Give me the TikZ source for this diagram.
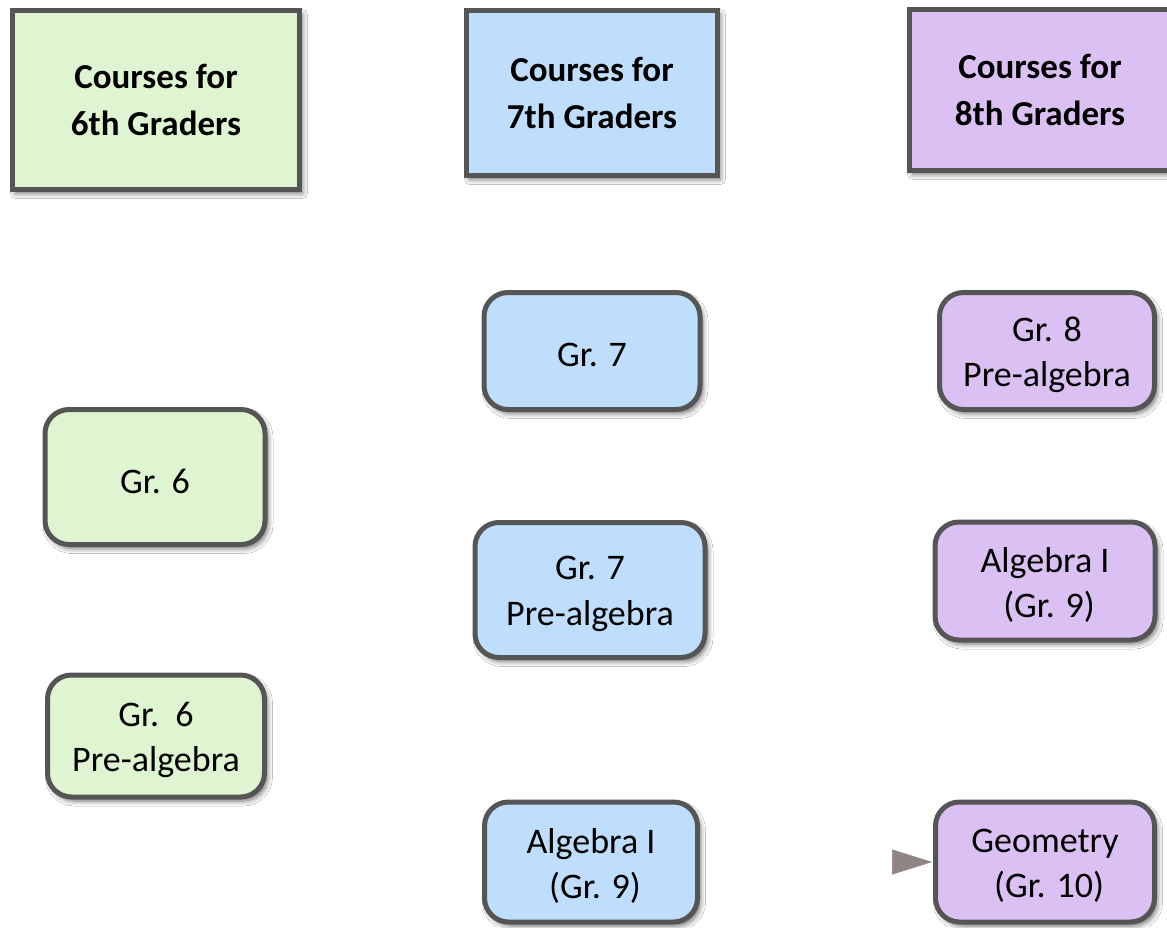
\documentclass[tikz,border=0pt]{standalone}
\usepackage{fontspec}
\setmainfont{Carlito}
\usetikzlibrary{shadows.blur,arrows.meta}
\definecolor{gfill}{HTML}{DFF4D0}
\definecolor{bfill}{HTML}{BFDDFC}
\definecolor{pfill}{HTML}{DBC1F3}
\definecolor{bord}{HTML}{555555}
\definecolor{arrowc}{HTML}{908585}
\tikzset{
  base/.style={draw=bord, line width=5pt, inner sep=0pt, align=center,
    blur shadow={shadow xshift=3pt, shadow yshift=-4pt, shadow blur radius=5pt,
      shadow blur steps=6, shadow opacity=55}},
  head/.style={base, rectangle, font=\fontsize{35}{47}\selectfont\bfseries},
  course/.style={base, rectangle, rounded corners=24pt},
  txt/.style={align=center, inner sep=0pt, yshift=-4pt, font=\fontsize{36}{45.5}\selectfont},
}
\begin{document}
\begin{tikzpicture}[x=1pt,y=-1pt]
\useasboundingbox (0,0) rectangle (1167,927);
\clip (0,0) rectangle (1167,927);
\fill[white] (0,0) rectangle (1167,927);
% headers
\node[head, fill=gfill, minimum width=287pt, minimum height=179pt] (h6) at (156,100) {Courses for\\6th Graders};
\node[head, fill=bfill, minimum width=251pt, minimum height=165pt] (h7) at (592,93) {Courses for\\7th Graders};
\node[head, fill=pfill, minimum width=261pt, minimum height=161pt] (h8) at (1040,90) {Courses for\\8th Graders};
% grade 6
\node[course, fill=gfill, minimum width=220pt, minimum height=135pt,
  label={[txt, name=g6t]center:{Gr. 6}}] (g6) at (155,477) {};
\node[course, fill=gfill, minimum width=217pt, minimum height=122pt,
  label={[txt, name=g6pt]center:{Gr.\ \ 6\\Pre-algebra}}] (g6p) at (156,736) {};
% grade 7
\node[course, fill=bfill, minimum width=216pt, minimum height=117pt,
  label={[txt, name=g7t]center:{Gr. 7}}] (g7) at (592,351) {};
\node[course, fill=bfill, minimum width=230pt, minimum height=135pt,
  label={[txt, name=g7pt]center:{Gr. 7\\Pre-algebra}}] (g7p) at (590,590) {};
\node[course, fill=bfill, minimum width=213pt, minimum height=120pt,
  label={[txt, name=alg7t]center:{Algebra I\\\ (Gr. 9)}}] (alg7) at (591,862) {};
% grade 8
\node[course, fill=pfill, minimum width=215pt, minimum height=117pt,
  label={[txt, name=g8pt]center:{Gr. 8\\Pre-algebra}}] (g8p) at (1047,351) {};
\node[course, fill=pfill, minimum width=220pt, minimum height=118pt,
  label={[txt, name=alg8t]center:{Algebra I\\\ (Gr. 9)}}] (alg8) at (1045,581) {};
\node[course, fill=pfill, minimum width=219pt, minimum height=120pt,
  label={[txt, name=geot]center:{Geometry\\\ (Gr. 10)}}] (geo) at (1045,862) {};
% arrow
\coordinate (astart) at ([xshift=-40pt]geo.west);
\draw[arrowc, line width=0.5pt, -{Triangle[length=40pt,width=25pt]}] (astart) -- ([xshift=-1pt]geo.west);
\end{tikzpicture}
\end{document}
